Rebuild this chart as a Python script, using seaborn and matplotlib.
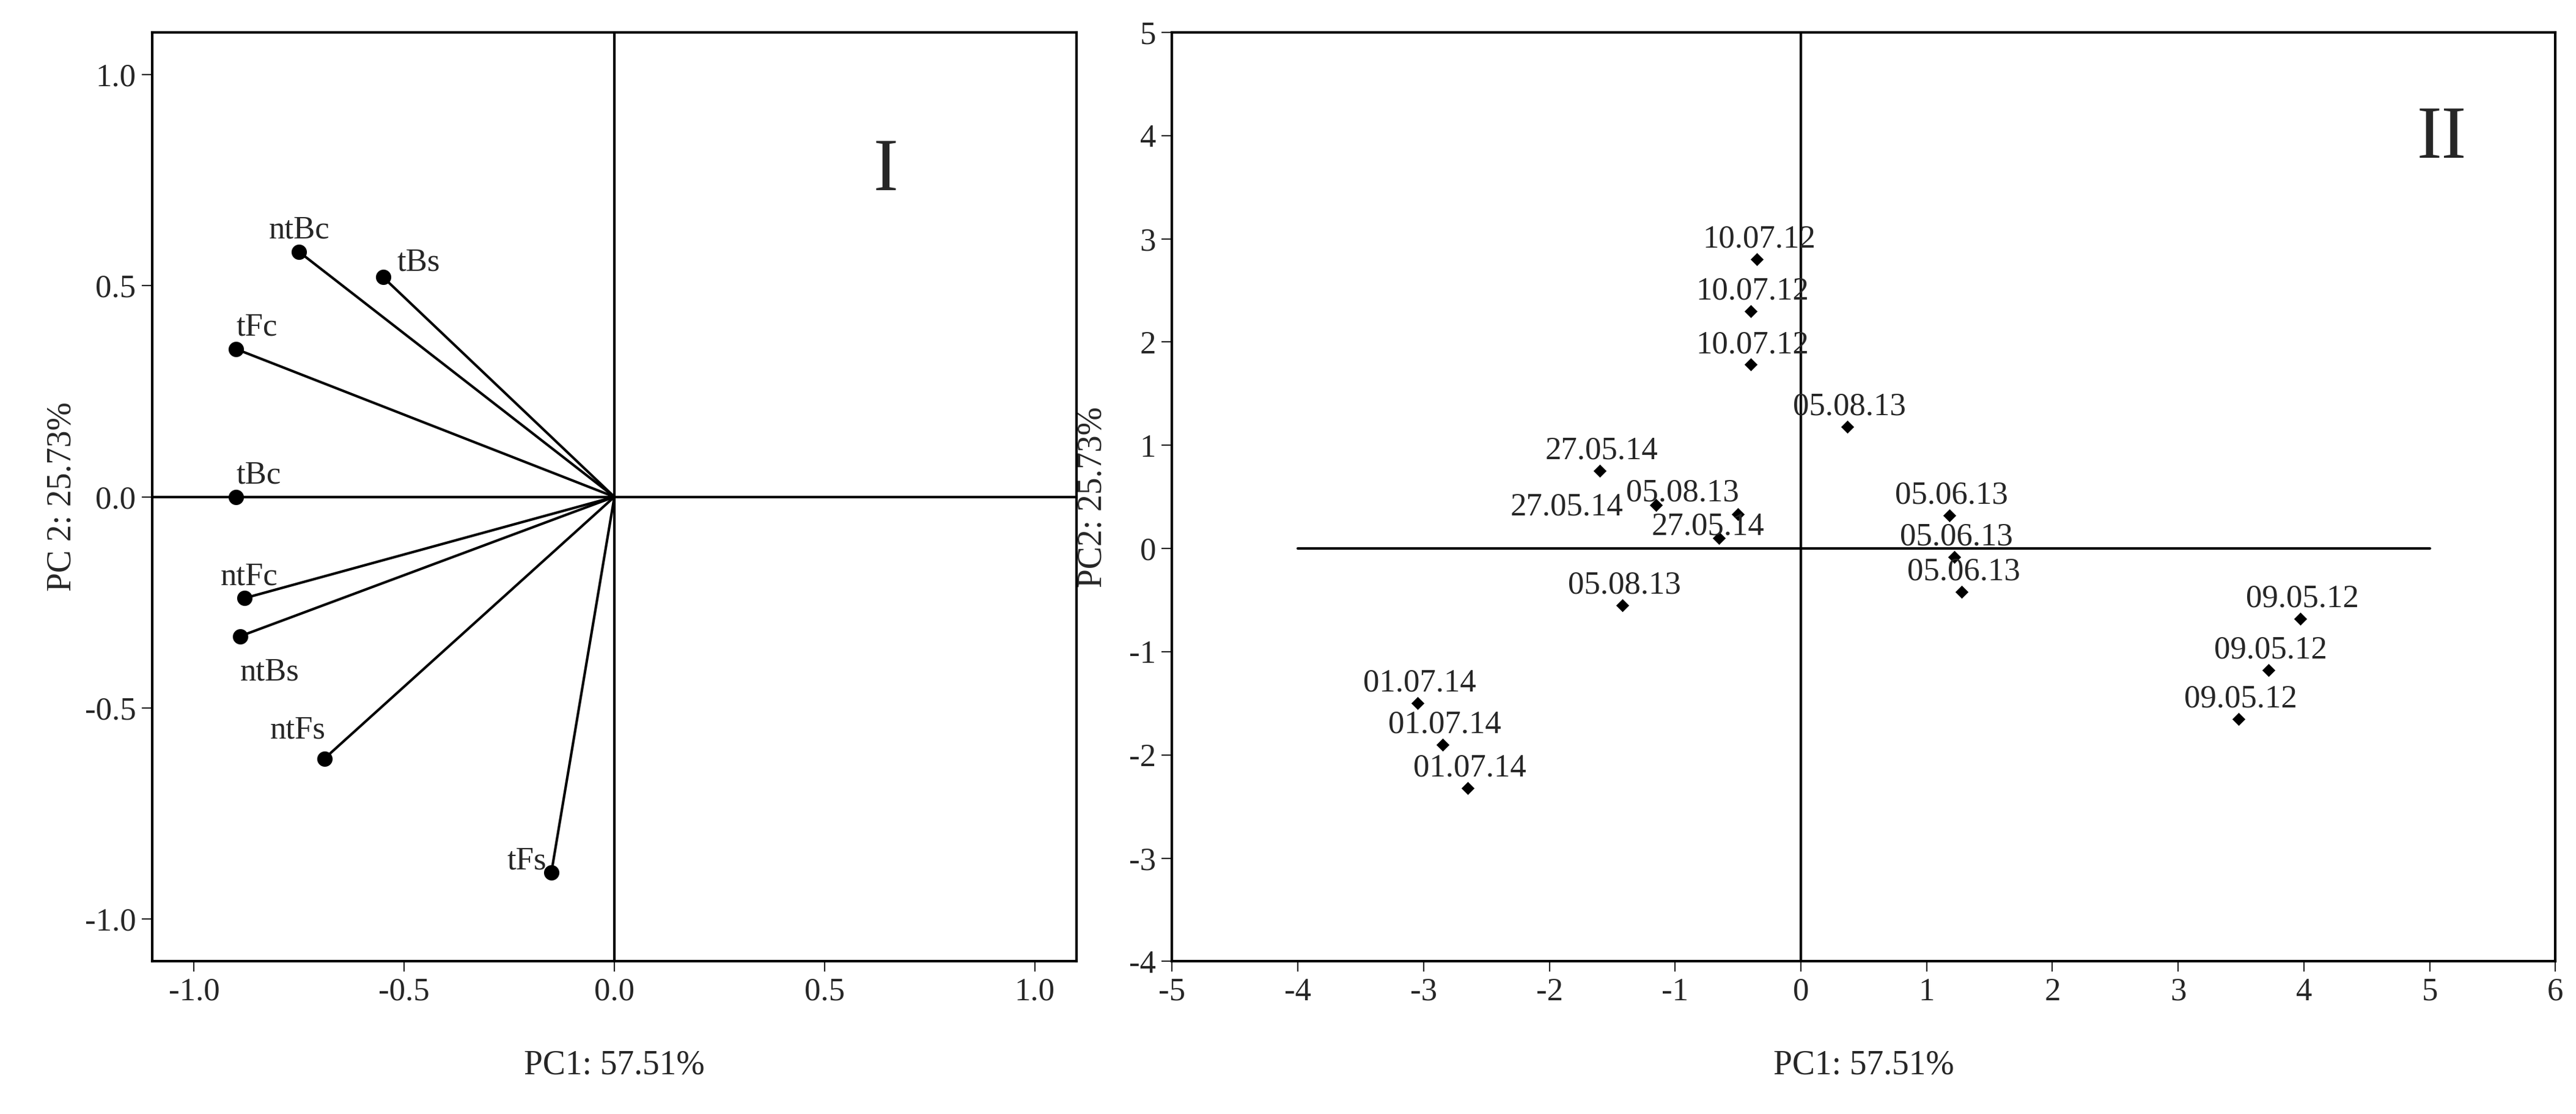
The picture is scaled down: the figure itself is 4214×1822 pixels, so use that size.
import matplotlib
matplotlib.use("Agg")
import matplotlib.pyplot as plt
import seaborn as sns
import pandas as pd

sns.set_style("white")
plt.rcParams['font.family'] = ['Liberation Serif', 'DejaVu Serif']
plt.rcParams['axes.unicode_minus'] = False

# loadings (panel I)
var_names = ['ntBc', 'tBs', 'tFc', 'tBc', 'ntFc', 'ntBs', 'ntFs', 'tFs']
load_x = [-0.75, -0.55, -0.90, -0.90, -0.88, -0.89, -0.69, -0.15]
load_y = [0.58, 0.52, 0.35, 0.00, -0.24, -0.33, -0.62, -0.89]
load_off = [(-18, 8), (8, 4), (0, 8), (0, 8), (-14, 8), (0, -26), (-32, 12), (-26, 2)]

# scores (panel II)
dates = ['10.07.12', '10.07.12', '10.07.12', '05.08.13', '27.05.14', '27.05.14', '27.05.14',
         '05.08.13', '05.06.13', '05.06.13', '05.06.13', '05.08.13',
         '09.05.12', '09.05.12', '09.05.12', '01.07.14', '01.07.14', '01.07.14']
score_x = [-0.35, -0.40, -0.40, 0.37, -1.60, -1.15, -0.65, -0.50, 1.18, 1.22, 1.28, -1.42,
           3.97, 3.72, 3.48, -3.05, -2.85, -2.65]
score_y = [2.80, 2.30, 1.78, 1.18, 0.75, 0.42, 0.10, 0.33, 0.32, -0.08, -0.42, -0.55,
           -0.68, -1.18, -1.65, -1.50, -1.90, -2.32]
score_off = [(-32, 7)] * 4 + [(-32, 7), (-86, -6), (-40, 2), (-66, 8)] + [(-32, 7)] * 10

fig = plt.figure(figsize=(21.07, 9.11), dpi=200)
ax1 = fig.add_axes([0.059, 0.137, 0.359, 0.834])
ax2 = fig.add_axes([0.455, 0.137, 0.537, 0.834])

load = pd.DataFrame({'x': load_x, 'y': load_y})
for x, y in zip(load_x, load_y):
    ax1.plot([0, x], [0, y], color='black', lw=1.5)
sns.scatterplot(data=load, x='x', y='y', ax=ax1, color='black', s=70, edgecolor='black', zorder=3)
for n, x, y, o in zip(var_names, load_x, load_y, load_off):
    ax1.annotate(n, (x, y), xytext=o, textcoords='offset points', fontsize=19)
ax1.axhline(0, color='black', lw=1.5)
ax1.axvline(0, color='black', lw=1.5)
ax1.set_xlim(-1.1, 1.1)
ax1.set_ylim(-1.1, 1.1)
ax1.set_xticks([-1.0, -0.5, 0.0, 0.5, 1.0])
ax1.set_yticks([-1.0, -0.5, 0.0, 0.5, 1.0])
ax1.set_xlabel('PC1: 57.51%', fontsize=20, labelpad=25)
ax1.set_ylabel('PC 2: 25.73%', fontsize=20)
ax1.text(0.78, 0.83, 'I', transform=ax1.transAxes, fontsize=44)

scores = pd.DataFrame({'x': score_x, 'y': score_y})
sns.scatterplot(data=scores, x='x', y='y', ax=ax2, color='black', marker='D', s=35, zorder=3)
for d, x, y, o in zip(dates, score_x, score_y, score_off):
    ax2.annotate(d, (x, y), xytext=o, textcoords='offset points', fontsize=19)
ax2.plot([-4, 5], [0, 0], color='black', lw=1.5)
ax2.axvline(0, color='black', lw=1.5)
ax2.set_xlim(-5, 6)
ax2.set_ylim(-4, 5)
ax2.set_xticks(range(-5, 7))
ax2.set_yticks(range(-4, 6))
ax2.set_xlabel('PC1: 57.51%', fontsize=20, labelpad=25)
ax2.set_ylabel('PC2: 25.73%', fontsize=20, labelpad=12)
ax2.text(0.9, 0.865, 'II', transform=ax2.transAxes, fontsize=44)

for ax in (ax1, ax2):
    for s in ax.spines.values():
        s.set_color('black')
        s.set_linewidth(1.5)
    ax.tick_params(labelsize=19, direction='out', length=6, bottom=True, left=True)

fig.savefig('out.png', dpi=200)
